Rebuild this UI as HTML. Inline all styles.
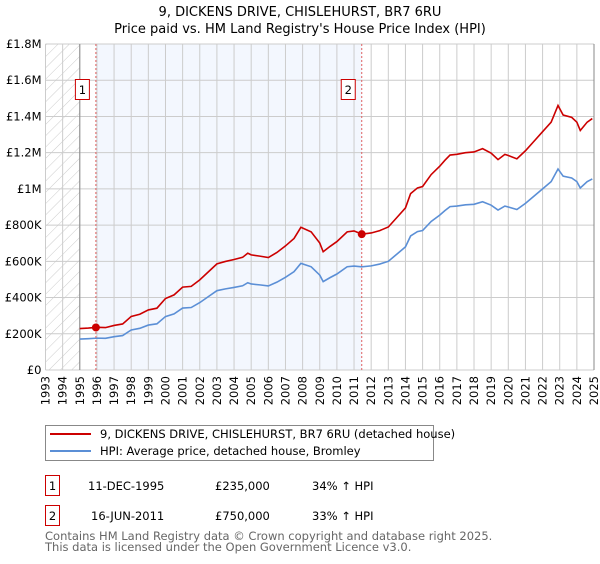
<!DOCTYPE html>
<html><head><meta charset="utf-8"><style>
body{margin:0;background:#fff;font-family:"DejaVu Sans","Liberation Sans",sans-serif;}
svg text{font-family:"DejaVu Sans","Liberation Sans",sans-serif;}
</style></head><body>
<svg id="chart" width="600" height="560" xmlns="http://www.w3.org/2000/svg">
<defs><pattern id="hatch" width="8" height="8" patternUnits="userSpaceOnUse" patternTransform="rotate(45)"><line x1="0" y1="0" x2="0" y2="8" stroke="#ccc" stroke-width="1"/></pattern></defs>
<text x="300" y="16" text-anchor="middle" font-size="13">9, DICKENS DRIVE, CHISLEHURST, BR7 6RU</text>
<text x="300" y="33" text-anchor="middle" font-size="13">Price paid vs. HM Land Registry's House Price Index (HPI)</text>
<g id="plot"></g>
<g>
<rect x="45.5" y="425.5" width="388" height="35" fill="#fff" stroke="#888"/>
<line x1="50" y1="434" x2="91" y2="434" stroke="#cc0000" stroke-width="2"/>
<text x="100" y="438" font-size="11.5">9, DICKENS DRIVE, CHISLEHURST, BR7 6RU (detached house)</text>
<line x1="50" y1="451" x2="91" y2="451" stroke="#5b8fd6" stroke-width="2"/>
<text x="100" y="455" font-size="11.5">HPI: Average price, detached house, Bromley</text>
</g>
<g font-size="11.5">
<rect x="45.5" y="475.5" width="14" height="20" fill="#fff" stroke="#cc0000"/><text x="52.5" y="490" text-anchor="middle">1</text>
<text x="88" y="490">11-DEC-1995</text><text x="215" y="490">£235,000</text><text x="312" y="490">34% ↑ HPI</text>
<rect x="45.5" y="505.5" width="14" height="20" fill="#fff" stroke="#cc0000"/><text x="52.5" y="520" text-anchor="middle">2</text>
<text x="91" y="520">16-JUN-2011</text><text x="215" y="520">£750,000</text><text x="312" y="520">33% ↑ HPI</text>
</g>
<text x="45" y="540" font-size="11.5" fill="#666">Contains HM Land Registry data © Crown copyright and database right 2025.</text>
<text x="45" y="551" font-size="11.5" fill="#666">This data is licensed under the Open Government Licence v3.0.</text>
</svg>
<script>
const hpiYears=[1995,1995.5,1996,1996.5,1997,1997.5,1998,1998.5,1999,1999.5,2000,2000.5,2001,2001.5,2002,2002.5,2003,2003.5,2004,2004.5,2004.8,2005,2005.5,2006,2006.5,2007,2007.5,2007.9,2008.5,2009,2009.2,2009.6,2010,2010.6,2011,2011.45,2012,2012.5,2013,2013.5,2014,2014.3,2014.7,2015,2015.5,2016,2016.3,2016.6,2017,2017.5,2018,2018.5,2019,2019.4,2019.8,2020,2020.5,2021,2021.5,2022,2022.5,2022.9,2023.2,2023.7,2024,2024.2,2024.6,2024.9];
const hpiValues=[171000,173000,176000,175000,184000,190000,221000,230000,248000,255000,295000,310000,342000,345000,372000,405000,438000,448000,456000,465000,482000,475000,470000,464000,485000,512000,543000,589000,570000,524000,488000,510000,530000,570000,574000,570000,575000,585000,600000,640000,680000,740000,764000,770000,820000,855000,880000,902000,905000,912000,915000,929000,910000,883000,905000,900000,886000,920000,960000,1000000,1040000,1110000,1070000,1060000,1040000,1005000,1040000,1055000];
const saleYears=[1995.94,2011.45];
const salePrices=[235000,750000];
const yTicks=[0,200000,400000,600000,800000,1000000,1200000,1400000,1600000,1800000];
const yTickLabels=["£0","£200K","£400K","£600K","£800K","£1M","£1.2M","£1.4M","£1.6M","£1.8M"];
const xTicks=[1993,1994,1995,1996,1997,1998,1999,2000,2001,2002,2003,2004,2005,2006,2007,2008,2009,2010,2011,2012,2013,2014,2015,2016,2017,2018,2019,2020,2021,2022,2023,2024,2025];
const X0=45.5,X1=594,Y0=370,Y1=44;
const xs=y=>X0+(y-1993)/(2025-1993)*(X1-X0);
const ys=v=>Y0-v/1800000*(Y0-Y1);
const NS="http://www.w3.org/2000/svg";
const g=document.getElementById('plot');
function mk(t,a){const e=document.createElementNS(NS,t);for(const k in a)e.setAttribute(k,a[k]);g.appendChild(e);return e;}
function hpiAt(y){for(let i=1;i<hpiYears.length;i++){if(y<=hpiYears[i]){const t=(y-hpiYears[i-1])/(hpiYears[i]-hpiYears[i-1]);return hpiValues[i-1]+t*(hpiValues[i]-hpiValues[i-1]);}}return hpiValues[hpiValues.length-1];}
let e;
e=mk('rect',{x:xs(1993),y:Y1,width:xs(1995)-xs(1993),height:Y0-Y1,fill:'url(#hatch)'});


e=mk('rect',{x:xs(saleYears[0]),y:Y1,width:xs(saleYears[1])-xs(saleYears[0]),height:Y0-Y1,fill:'#eef3fd',opacity:0.7});


xTicks.forEach(t=>{
e=mk('line',{x1:xs(t),x2:xs(t),y1:Y1,y2:Y0,stroke:'#ccc'});


e=mk('text',{x:0,y:0,'font-size':11.5,'text-anchor':'end',transform:`translate(${xs(t)+4},${Y0+6}) rotate(-90)`});
e.textContent=t;


});
yTicks.forEach((t,i)=>{
e=mk('line',{x1:X0,x2:X1,y1:ys(t),y2:ys(t),stroke:'#ccc'});


e=mk('text',{x:X0-4,y:ys(t)+4,'font-size':11.5,'text-anchor':'end'});
e.textContent=yTickLabels[i];


});
e=mk('line',{x1:xs(1995),x2:xs(1995),y1:Y1,y2:Y0,stroke:'#888'});


e=mk('line',{x1:X1,x2:X1,y1:Y1,y2:Y0,stroke:'#888'});


// HPI line
e=mk('polyline',{points:hpiYears.map((y,i)=>xs(y)+','+ys(hpiValues[i])).join(' '),fill:'none',stroke:'#5b8fd6','stroke-width':1.6});


// price line: indexed from sales
const r0=salePrices[0]/hpiAt(saleYears[0]),r1=salePrices[1]/hpiAt(saleYears[1]);
e=mk('polyline',{points:hpiYears.map((y,i)=>xs(y)+','+ys(hpiValues[i]*(y<saleYears[1]?r0:r1))).join(' '),fill:'none',stroke:'#cc0000','stroke-width':1.6});


saleYears.forEach((y,i)=>{
e=mk('line',{x1:xs(y),x2:xs(y),y1:Y1,y2:Y0,stroke:'#e06060','stroke-dasharray':'2,2'});


e=mk('circle',{cx:xs(y),cy:ys(salePrices[i]),r:4,fill:'#cc0000'});


e=mk('rect',{x:xs(y)-20.5,y:79.5,width:14,height:20,fill:'#fff',stroke:'#cc0000'});


e=mk('text',{x:xs(y)-13.5,y:94,'font-size':11.5,'text-anchor':'middle'});
e.textContent=String(i+1);


});
</script>
</body></html>
